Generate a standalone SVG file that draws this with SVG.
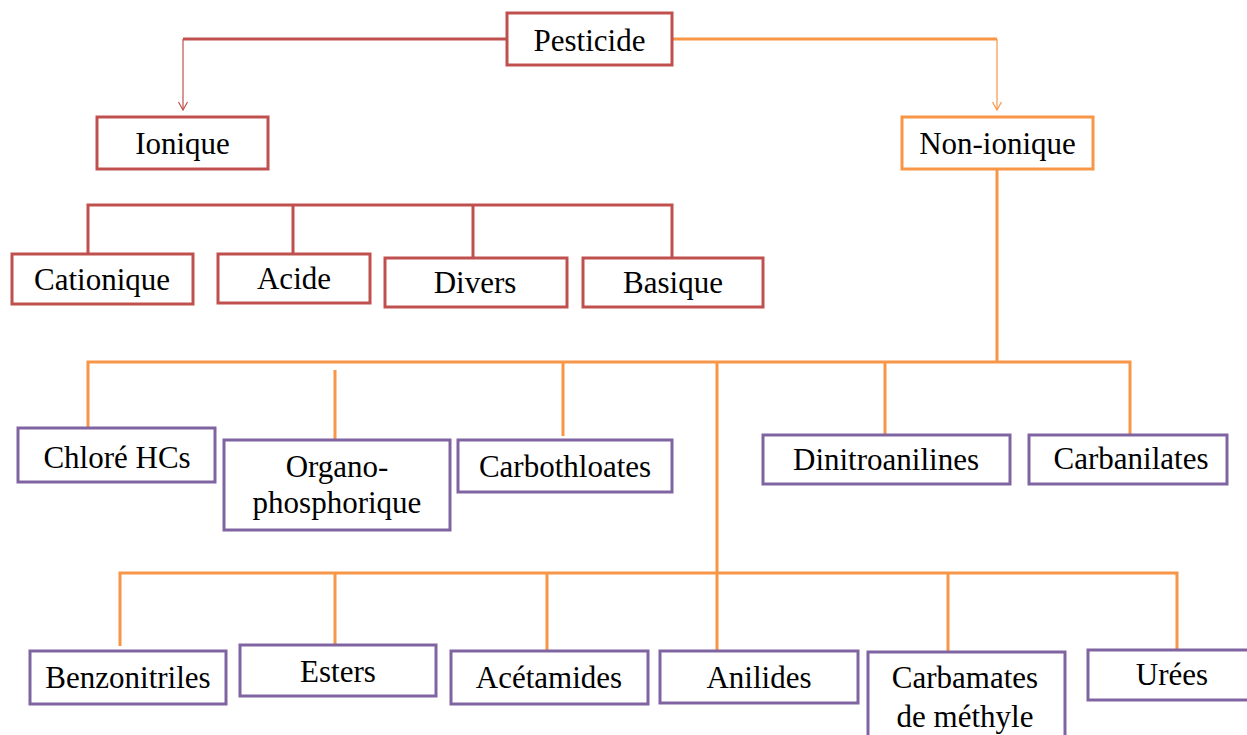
<svg xmlns="http://www.w3.org/2000/svg" width="1247" height="735" viewBox="0 0 1247 735">
<defs>
<marker id="arR" viewBox="0 0 12 12" refX="11" refY="6" markerWidth="12" markerHeight="12" markerUnits="userSpaceOnUse" orient="auto">
<path d="M3,1.5 L11,6 L3,10.5" fill="none" stroke="#C0504D" stroke-width="1.2"/>
</marker>
<marker id="arO" viewBox="0 0 12 12" refX="11" refY="6" markerWidth="12" markerHeight="12" markerUnits="userSpaceOnUse" orient="auto">
<path d="M3,1.5 L11,6 L3,10.5" fill="none" stroke="#F79646" stroke-width="1.2"/>
</marker>
</defs>
<style>
.b{fill:#fff;stroke-width:3}
.r{stroke:#C0504D}
.o{stroke:#F79646}
.p{stroke:#8064A2}
.t{font-family:"Liberation Serif","Times New Roman",serif;font-size:31px;fill:#000;text-anchor:middle}
.lr{fill:none;stroke:#C0504D;stroke-width:3}
.lo{fill:none;stroke:#F79646;stroke-width:3}
</style>
<rect width="1247" height="735" fill="#fff"/>
<g id="connectors">
<path class="lr" d="M507,39 H183"/>
<path d="M183,39 V110" stroke="#C0504D" stroke-width="1.2" fill="none" marker-end="url(#arR)"/>
<path class="lo" d="M672,39 H997"/>
<path d="M997,39 V110" stroke="#F79646" stroke-width="1.2" fill="none" marker-end="url(#arO)"/>
<path class="lr" d="M88,253 V205 H672 V258 M293,205 V253 M473,205 V257"/>
<path class="lo" d="M997,169 V362 M88,428 V362 H1130 V436 M335,370 V440 M563,362 V436 M885,362 V435 M717,362 V651"/>
<path class="lo" d="M120,646 V573 H1177 V650 M335,573 V645 M547,573 V651 M948,573 V651"/>
</g>
<g id="pesticide"><rect class="b r" x="507" y="13" width="165" height="52"/><text class="t" x="589.5" y="51">Pesticide</text></g>
<g id="ionique"><rect class="b r" x="97" y="117" width="171" height="52"/><text class="t" x="182.5" y="154">Ionique</text></g>
<g id="non-ionique"><rect class="b o" x="902" y="117" width="191" height="52"/><text class="t" x="997.5" y="154">Non-ionique</text></g>
<g id="cationique"><rect class="b r" x="12" y="254" width="181" height="50"/><text class="t" x="102" y="290">Cationique</text></g>
<g id="acide"><rect class="b r" x="218" y="254" width="152" height="49"/><text class="t" x="294" y="289">Acide</text></g>
<g id="divers"><rect class="b r" x="385" y="258" width="182" height="49"/><text class="t" x="475" y="293">Divers</text></g>
<g id="basique"><rect class="b r" x="583" y="258" width="180" height="49"/><text class="t" x="673" y="293">Basique</text></g>
<g id="chlore"><rect class="b p" x="18" y="428" width="197" height="54"/><text class="t" x="117" y="468">Chloré HCs</text></g>
<g id="organo"><rect class="b p" x="224" y="440" width="226" height="90"/><text class="t" x="337" y="477">Organo-</text><text class="t" x="337" y="513">phosphorique</text></g>
<g id="carbothloates"><rect class="b p" x="458" y="440" width="214" height="52"/><text class="t" x="565" y="477">Carbothloates</text></g>
<g id="dinitroanilines"><rect class="b p" x="763" y="435" width="247" height="49"/><text class="t" x="886" y="470">Dinitroanilines</text></g>
<g id="carbanilates"><rect class="b p" x="1029" y="435" width="198" height="49"/><text class="t" x="1131" y="469">Carbanilates</text></g>
<g id="benzonitriles"><rect class="b p" x="30" y="651" width="196" height="53"/><text class="t" x="128" y="688">Benzonitriles</text></g>
<g id="esters"><rect class="b p" x="240" y="645" width="196" height="51"/><text class="t" x="338" y="682">Esters</text></g>
<g id="acetamides"><rect class="b p" x="451" y="651" width="197" height="53"/><text class="t" x="549" y="688">Acétamides</text></g>
<g id="anilides"><rect class="b p" x="660" y="651" width="198" height="52"/><text class="t" x="759" y="688">Anilides</text></g>
<g id="carbamates"><rect class="b p" x="868" y="652" width="197" height="90"/><text class="t" x="965" y="688">Carbamates</text><text class="t" x="965" y="727">de méthyle</text></g>
<g id="urees"><rect class="b p" x="1088" y="650" width="165" height="50"/><text class="t" x="1172" y="685">Urées</text></g>
</svg>
